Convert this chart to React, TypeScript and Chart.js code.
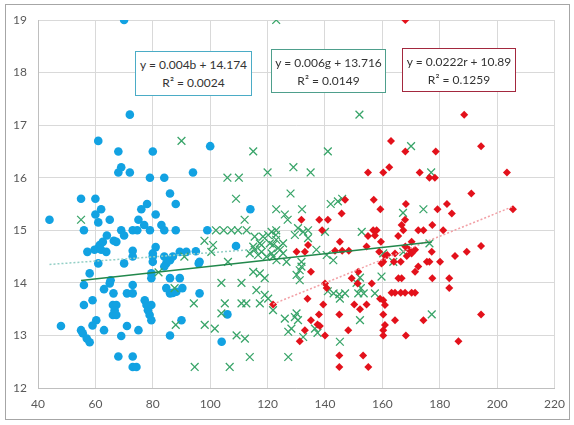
import React, { useEffect, useRef } from "react";
import { Chart, registerables } from "chart.js";

Chart.register(...registerables);

// ---- Data ----
const blueX = [70,72,61,68,80,69,68,72,79,84,94,100,86,88,55,60,62,60,61,76,78,81,65,44,75,77,83,84,56,69,70,73,74.6,79,64,62.6,61.5,61,59.7,62,66.4,67.3,57.2,63.8,73,73,81,80,80,84,86,84.7,61,70,58,79.5,95,91.7,89.4,87,84,96,80,79.5,86,89.4,90.3,87,86,84.7,65.3,65,63,56,66.3,71,73,73,77.2,77.8,78.3,78.9,79.5,79.5,66.1,67.3,66.7,66.1,67.3,59,56,90,60.3,59,48,55,55.6,57,58,63,71,75,69,86,68,73,73,74.3,99,109,114,96.3,96.3,106,104,88,88.2];
const blueY = [19.0,17.2,16.7,16.5,16.5,16.2,16.1,16.1,16.0,16.0,16.1,16.6,15.7,15.5,15.6,15.6,15.4,15.3,15.15,15.4,15.5,15.3,15.2,15.2,15.2,15.1,15.1,15.0,15.0,15.0,14.9,15.0,15.0,15.0,14.9,14.78,14.72,14.66,14.63,14.63,14.8,14.78,14.59,14.59,14.61,14.5,14.68,14.5,14.4,14.5,14.43,14.37,14.37,14.37,14.18,14.18,14.6,14.59,14.59,14.5,14.31,14.37,14.56,14.09,14.09,14.09,13.9,13.81,13.8,13.9,14.05,13.99,13.88,13.96,13.8,13.8,13.8,13.96,13.67,13.58,13.48,13.39,13.29,13.58,13.58,13.58,13.48,13.39,13.39,13.67,13.58,13.29,13.29,13.19,13.18,13.1,13.04,12.94,12.87,13.1,13.18,13.1,12.99,13.0,12.6,12.6,12.4,12.4,15.0,14.7,15.4,14.4,13.8,13.4,12.88,15.0,13.83];

const greenX = [123,152,115,141,106,110,120,129,135,109,128,123,126,132,142,144.5,146,90,55,127,112,102,104.7,107.4,109.7,112.7,123,98,115.5,118.4,120.2,120.8,117.9,115,123,124.3,101,113.8,116.7,119.6,91,100.4,106.2,117.3,115.5,117.9,121.4,122.9,121.9,123.7,125.4,126.6,123.1,121.4,125.4,121.9,130.6,132.4,134.1,129.5,134.1,140,137,142.9,140.6,131.8,131.8,131.2,152.8,160.3,159.7,115,117.3,119,103.9,110.9,130.1,131.2,94.3,105.1,110.9,112.6,117.3,120.2,103.9,121.9,98.1,101.6,109.2,112.1,119,116.1,126,127.2,128.3,129.5,130.1,130.6,132.4,113.8,127.2,94.6,106.8,145.2,141,143,145,147,151.6,152.5,153.5,157.4,151,152.2,152.2,136.5,137.4,88,170,177,174.3,167.2,176.4,167.3,163.8,177.2,145.2,87.6,82];
const greenY = [19.0,17.2,16.5,16.5,16.0,16.0,16.1,16.2,16.1,15.6,15.7,15.4,15.3,15.4,15.5,15.55,15.6,16.7,15.2,15.2,15.2,15.0,15.0,15.0,15.0,15.0,15.0,14.8,14.88,14.88,14.91,14.75,14.72,14.69,14.82,14.63,14.72,14.56,14.53,14.5,14.5,14.59,14.4,14.75,14.63,14.59,14.97,14.91,14.72,14.66,14.56,14.4,14.43,14.56,14.75,14.5,15.04,14.97,15.0,14.91,14.85,14.97,14.63,14.43,14.53,14.4,14.31,14.24,14.97,14.56,14.12,14.21,14.18,14.09,14.0,14.0,14.15,14.05,13.61,13.61,13.61,13.61,13.61,13.7,13.42,13.48,13.2,13.13,13.0,12.94,13.77,13.86,13.32,13.07,13.13,13.35,13.42,13.29,12.97,12.59,12.59,12.4,12.4,12.88,13.84,13.8,13.78,13.8,13.8,13.9,13.8,13.8,14.0,14.1,13.29,13.13,13.05,13.2,16.6,16.1,15.4,15.33,14.75,14.59,14.4,13.4,13.7,13.9,14.2];

const redX = [168,188.5,163,168,178.6,194.4,155,160.3,162.4,173,176.4,178.3,203.4,191,147,157,159.3,145.8,168.2,182.5,184.2,179.2,205.5,138,141,139,131.8,166.7,167.9,167.3,156.8,158,155,159.5,165.5,172.5,174.3,177.4,181.2,145.2,154.5,134.1,143.5,146,148.3,170.2,168,169.3,170.2,171.4,161,164.4,177.2,168.5,166.4,164,160.3,175.5,176.4,180.1,185.3,189.4,194.4,172.5,171.4,165.6,166.7,177.4,183.3,183.3,163.2,164.4,166.4,167.9,170.2,171.4,160.3,160.9,160.3,164.4,174.3,194.4,160.9,160.3,160.3,168.2,186.5,151.6,149.3,151.4,156.3,140,140.6,135.1,133.9,139.4,150.2,154.5,152.2,159.2,145,137.9,135.1,137.4,138.2,148.1,133,140,145,145,153.3,155.1,121.9,131.2,130.1,133,157.4,158.9,161.7,159.7];
const redY = [19.0,17.2,16.7,16.5,16.5,16.6,16.1,16.1,16.2,16.1,16.0,16.0,16.1,15.7,15.58,15.58,15.4,15.32,15.5,15.5,15.32,15.4,15.4,15.2,15.2,15.0,15.2,15.1,15.2,15.0,15.0,15.0,14.89,14.78,14.89,15.0,15.0,15.1,15.0,14.78,14.69,14.72,14.61,14.61,14.61,14.78,14.69,14.63,14.56,14.63,14.51,14.56,14.59,14.51,14.4,14.4,14.4,14.4,14.4,14.4,14.51,14.59,14.7,14.31,14.21,14.09,14.09,14.09,14.09,13.9,13.81,13.81,13.81,13.81,13.81,13.81,13.67,13.58,13.4,13.29,13.29,13.4,13.2,13.1,13.0,13.0,12.89,14.21,14.09,13.99,13.99,13.99,13.9,14.21,13.7,13.59,13.59,13.59,13.5,13.7,13.4,13.4,13.29,13.21,13.18,13.1,13.1,13.0,12.62,12.4,12.62,12.4,13.59,12.89,14.59,14.59,14.9,14.59,14.53,14.37];

// Trendline coefficients as printed on the chart
const blueTrend = { slope: 0.004, intercept: 14.174 };
const greenTrend = { slope: 0.006, intercept: 13.716 };
const redTrend = { slope: 0.0222, intercept: 10.89 };

const xTicks = [40, 60, 80, 100, 120, 140, 160, 180, 200, 220];
const yTicks = [12, 13, 14, 15, 16, 17, 18, 19];

const labels = [
  { line1: "y = 0.004b + 14.174", line2: "R² = 0.0024", border: "#4BACC6", left: 135, top: 51, width: 117, height: 45 },
  { line1: "y = 0.006g + 13.716", line2: "R² = 0.0149", border: "#4E9F8C", left: 271, top: 49, width: 115, height: 44 },
  { line1: "y = 0.0222r + 10.89", line2: "R² = 0.1259", border: "#A3283E", left: 402, top: 48, width: 114, height: 44 },
];

function pts(xs: number[], ys: number[]) {
  return xs.map((x, i) => ({ x, y: ys[i] }));
}
function trend(xs: number[], t: { slope: number; intercept: number }) {
  const lo = Math.min(...xs);
  const hi = Math.max(...xs);
  return [
    { x: lo, y: t.slope * lo + t.intercept },
    { x: hi, y: t.slope * hi + t.intercept },
  ];
}

export default function App() {
  const ref = useRef<HTMLCanvasElement | null>(null);

  useEffect(() => {
    if (!ref.current) return;
    const tickFont = { family: "Lato, 'Open Sans', sans-serif", size: 12 };
    const chart = new Chart(ref.current, {
      type: "scatter",
      data: {
        datasets: [
          {
            label: "b",
            data: pts(blueX, blueY),
            pointStyle: "circle",
            pointRadius: 4.3,
            backgroundColor: "#12A2E2",
            borderWidth: 0,
            order: 3,
          },
          {
            label: "g",
            data: pts(greenX, greenY),
            pointStyle: "crossRot",
            pointRadius: 5.5,
            borderColor: "#3AA56A",
            backgroundColor: "#3AA56A",
            borderWidth: 1.3,
            order: 2,
          },
          {
            label: "r",
            data: pts(redX, redY),
            pointStyle: "rectRot",
            pointRadius: 4,
            backgroundColor: "#E3111B",
            borderWidth: 0,
            order: 1,
          },
          {
            type: "line",
            label: "bt",
            data: trend(blueX, blueTrend),
            showLine: true,
            pointRadius: 0,
            borderColor: "#93CFC6",
            borderWidth: 1.5,
            borderDash: [2, 2],
            order: 0,
          } as any,
          {
            type: "line",
            label: "gt",
            data: trend(greenX, greenTrend),
            showLine: true,
            pointRadius: 0,
            borderColor: "#22884C",
            borderWidth: 1.5,
            order: 0,
          } as any,
          {
            type: "line",
            label: "rt",
            data: trend(redX, redTrend),
            showLine: true,
            pointRadius: 0,
            borderColor: "#F2A0A6",
            borderWidth: 1.5,
            borderDash: [2, 2],
            order: 0,
          } as any,
        ],
      },
      options: {
        responsive: false,
        animation: false,
        layout: { padding: { left: 0, top: 20, right: 18, bottom: 0 } },
        plugins: { legend: { display: false }, tooltip: { enabled: false } },
        scales: {
          x: {
            type: "linear",
            min: xTicks[0],
            max: xTicks[xTicks.length - 1],
            afterBuildTicks: (s: any) => {
              s.ticks = xTicks.map((v) => ({ value: v }));
            },
            afterFit: (s: any) => {
              s.height = 37;
            },
            grid: { color: "#D9D9D9", drawTicks: false },
            border: { color: "#BFBFBF" },
            ticks: { color: "#595959", font: tickFont, padding: 9 },
          },
          y: {
            type: "linear",
            min: yTicks[0],
            max: yTicks[yTicks.length - 1],
            afterBuildTicks: (s: any) => {
              s.ticks = yTicks.map((v) => ({ value: v }));
            },
            afterFit: (s: any) => {
              s.width = 38;
            },
            grid: { color: "#D9D9D9", drawTicks: false },
            border: { color: "#BFBFBF" },
            ticks: { color: "#595959", font: tickFont, padding: 11 },
          },
        },
      },
    });
    return () => chart.destroy();
  }, []);

  return (
    <div style={{ position: "absolute", left: 0, top: 0, width: 574, height: 425, background: "#fff" }}>
      <div
        style={{
          position: "absolute",
          left: 5,
          top: 4,
          width: 565,
          height: 416,
          border: "1px solid #A6A6A6",
          boxSizing: "border-box",
        }}
      />
      <canvas ref={ref} width={574} height={425} style={{ position: "absolute", left: 0, top: 0, width: 574, height: 425 }} />
      {labels.map((l, i) => (
        <div
          key={i}
          style={{
            position: "absolute",
            left: l.left,
            top: l.top,
            width: l.width,
            height: l.height,
            boxSizing: "border-box",
            border: `1px solid ${l.border}`,
            background: "#fff",
            fontFamily: "Lato, 'Open Sans', sans-serif",
            fontSize: 12,
            color: "#333",
            textAlign: "center",
            lineHeight: "18px",
            paddingTop: 4,
          }}
        >
          <div>{l.line1}</div>
          <div>{l.line2}</div>
        </div>
      ))}
    </div>
  );
}
